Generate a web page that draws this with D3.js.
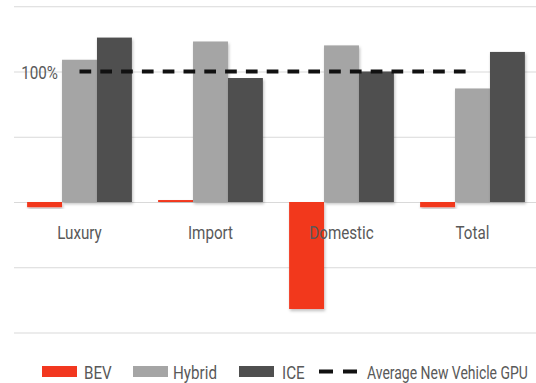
<!DOCTYPE html>
<html>
<head>
<meta charset="utf-8">
<script src="https://cdn.jsdelivr.net/npm/d3@7"></script>
<style>
  html, body { margin: 0; padding: 0; background: #fff; }
  svg { display: block; }
  text { font-family: Roboto, "Liberation Sans", sans-serif; fill: #595959; }
</style>
</head>
<body>
<svg id="chart" width="536" height="383"></svg>
<script>
// Gross profit per unit relative to the average new vehicle (100%)
const categories = ["Luxury", "Import", "Domestic", "Total"];
const seriesNames = ["BEV", "Hybrid", "ICE"];
const bev = [-4, 1.5, -82, -4];
const hybrid = [109, 123, 120, 87];
const ice = [126, 95, 100, 115];
const averageGPU = 100;
const yTicks = [-100, -50, 0, 50, 100, 150];
const labeledTicks = [100];
const legendLabel = "Average New Vehicle GPU";

const colors = { BEV: "#f2371f", Hybrid: "#a5a5a5", ICE: "#4f4f4f" };
const values = { BEV: bev, Hybrid: hybrid, ICE: ice };
const fontSize = 19;
const squeeze = 0.8; // condensed lettering

const svg = d3.select("#chart");

const defs = svg.append("defs");
const shadow = defs.append("filter").attr("id", "barShadow")
  .attr("x", "-20%").attr("y", "-20%").attr("width", "140%").attr("height", "140%");
shadow.append("feDropShadow")
  .attr("dx", 1).attr("dy", 2).attr("stdDeviation", 1.5)
  .attr("flood-color", "#000").attr("flood-opacity", 0.25);

const x0 = d3.scaleBand().domain(categories).range([14, 538])
  .paddingInner(0.2).paddingOuter(0.1);
const x1 = d3.scaleBand().domain(seriesNames).range([0, x0.bandwidth()]);
const y = d3.scaleLinear().domain([-100, 150]).range([332.5, 6.25]);

// text placed at (x, y), narrowed horizontally and kept within maxWidth
function label(parent, x, yPos, str, anchor, maxWidth) {
  const t = parent.append("text")
    .attr("text-anchor", anchor || "start")
    .attr("font-size", fontSize)
    .text(str);
  let k = squeeze;
  if (maxWidth) {
    const w = t.node().getComputedTextLength();
    if (w > 0) k = Math.min(k, maxWidth / w);
  }
  t.attr("transform", `translate(${x},${yPos}) scale(${k},1)`);
  return t;
}

// gridlines
const grid = d3.axisLeft(y).tickValues(yTicks).tickSize(-(536 - 14)).tickFormat("");
svg.append("g").attr("transform", "translate(14,0)").call(grid)
  .call(g => g.select(".domain").remove())
  .call(g => g.selectAll("line").attr("stroke", "#d9d9d9").attr("stroke-width", 1));

// bars
const groups = svg.append("g").selectAll("g").data(categories).join("g")
  .attr("transform", d => `translate(${x0(d)},0)`);
groups.selectAll("rect")
  .data((c, i) => seriesNames.map(s => ({ s, v: values[s][i] })))
  .join("rect")
  .attr("x", d => x1(d.s))
  .attr("width", x1.bandwidth())
  .attr("y", d => y(Math.max(0, d.v)))
  .attr("height", d => Math.abs(y(d.v) - y(0)))
  .attr("fill", d => colors[d.s])
  .attr("filter", "url(#barShadow)");

// category labels
const catLabels = svg.append("g");
categories.forEach(c => label(catLabels, x0(c) + x0.bandwidth() / 2, 239, c, "middle"));

// y label
const yLabels = svg.append("g");
labeledTicks.forEach(t => label(yLabels, 58, y(t) + 7, t + "%", "end"));

// average line
svg.append("line")
  .attr("x1", x0("Luxury") + x0.bandwidth() / 2)
  .attr("x2", x0("Total") + x0.bandwidth() / 2)
  .attr("y1", y(averageGPU)).attr("y2", y(averageGPU))
  .attr("stroke", "#111").attr("stroke-width", 4)
  .attr("stroke-dasharray", "11.7,9.1");

// legend
const legend = svg.append("g");
const legendItems = [
  { name: "BEV", sx: 42, tx: 84 },
  { name: "Hybrid", sx: 133, tx: 173 },
  { name: "ICE", sx: 239, tx: 282 }
];
legendItems.forEach(d => {
  legend.append("rect").attr("x", d.sx).attr("y", 366).attr("width", 35).attr("height", 11)
    .attr("fill", colors[d.name]);
  label(legend, d.tx, 378.5, d.name);
});
legend.append("line").attr("x1", 319).attr("x2", 357).attr("y1", 371.5).attr("y2", 371.5)
  .attr("stroke", "#111").attr("stroke-width", 4).attr("stroke-dasharray", "14,10");
label(legend, 367, 378.5, legendLabel, "start", 161);
</script>
</body>
</html>
